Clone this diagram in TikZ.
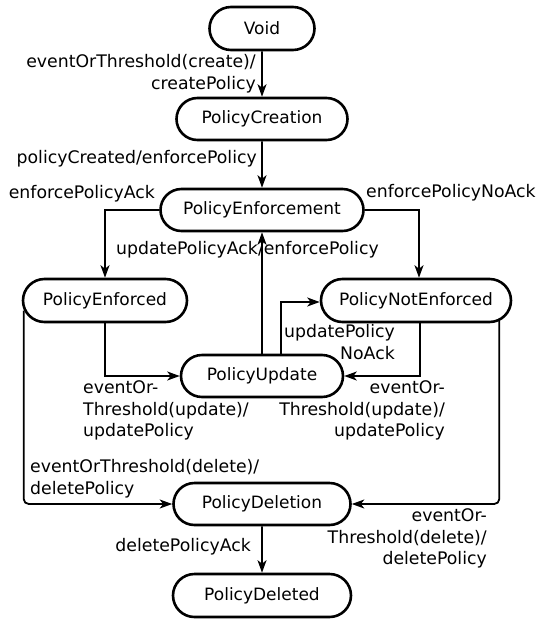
\documentclass[tikz,border=0pt]{standalone}
\usepackage{fontspec}
\setmainfont{DejaVu Sans}
\usetikzlibrary{arrows.meta,shapes.misc,calc}
\begin{document}
\begin{tikzpicture}[x=1pt,y=-1pt,
  state/.style={draw, rounded rectangle, line width=2.6pt, inner sep=0pt,
    font=\fontsize{17}{21.5}\selectfont, minimum height=42pt},
  conn/.style={line width=1.8pt, -{Stealth[length=12.5pt,width=9pt,inset=3.5pt]}},
  lbl/.style={inner sep=0pt, font=\fontsize{17.3}{21.7}\selectfont}]
\useasboundingbox (0,0) rectangle (539,619);
% states
\node[state, minimum width=105pt, minimum height=43pt] (void) at (262,28.5) {Void};
\node[state, minimum width=171pt] (pc) at (262,119) {PolicyCreation};
\node[state, minimum width=203pt] (pen) at (262,210) {PolicyEnforcement};
\node[state, minimum width=164pt, minimum height=43pt] (ped) at (105,300.5) {PolicyEnforced};
\node[state, minimum width=190pt, minimum height=43pt] (pne) at (416,300.5) {PolicyNotEnforced};
\node[state, minimum width=162pt] (pu) at (262,376) {PolicyUpdate};
\node[state, minimum width=177pt] (pdl) at (262,504) {PolicyDeletion};
\node[state, minimum width=178pt, minimum height=43pt] (pdd) at (262,595.5) {PolicyDeleted};
% connectors
\draw[conn] (void) -- (pc);
\draw[conn] (pc) -- (pen);
\draw[conn] (pen.west) -| (ped.north);
\draw[conn] (pen.east) -| ($(pne.north)+(3,0)$);
\draw[conn] (pu.north) -- (pen.south);
\draw[conn] ($(pu.north)+(19,0)$) |- ($(pne.west)+(0,1.5)$);
\draw[conn] (ped.south) |- (pu.west);
\draw[conn] ($(pne.south)+(4,0)$) |- (pu.east);
\draw[conn, rounded corners=5pt] ($(ped.west)+(2,10)$) |- (pdl.west);
\draw[conn, rounded corners=5pt] ($(pne.east)+(-13,20)$) |- (pdl.east);
\draw[conn] (pdl) -- (pdd);
% labels
\node[lbl, anchor=east, align=right] (l1) at (256,74) {eventOrThreshold(create)/\\createPolicy};
\node[lbl, anchor=east] (l2) at (257,159) {policyCreated/enforcePolicy};
\node[lbl, anchor=east] (l3) at (155,194) {enforcePolicyAck};
\node[lbl, anchor=west] (l4) at (366,193) {enforcePolicyNoAck};
\node[lbl, anchor=west] (l5) at (116,250) {updatePolicyAck/enforcePolicy};
\node[lbl, anchor=east, align=right] (l6) at (395,342) {updatePolicy\\NoAck};
\node[lbl, anchor=west, align=left] (l7) at (83,410.5) {eventOr-\\Threshold(update)/\\updatePolicy};
\node[lbl, anchor=east, align=right] (l8) at (445,410.5) {eventOr-\\Threshold(update)/\\updatePolicy};
\node[lbl, anchor=west, align=left] (l9) at (30,479) {eventOrThreshold(delete)/\\deletePolicy};
\node[lbl, anchor=east] (l10) at (251,547) {deletePolicyAck};
\node[lbl, anchor=east, align=right] (l11) at (487,538.5) {eventOr-\\Threshold(delete)/\\deletePolicy};
\end{tikzpicture}
\end{document}
